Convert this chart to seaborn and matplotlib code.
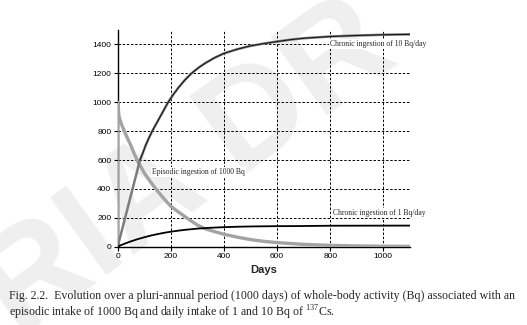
import matplotlib
matplotlib.use("Agg")
import matplotlib.pyplot as plt
import seaborn as sns
import pandas as pd

# Whole-body activity (Bq) of 137Cs versus time (days)
episodic_days = [0, 0, 5, 15, 25, 37, 50, 63, 77, 90, 100, 125, 150, 175, 200,
                 225, 250, 275, 300, 325, 350, 400, 450, 500, 550, 600, 700,
                 800, 900, 1000, 1100]
episodic_bq = [0, 1000, 900, 845, 800, 750, 700, 640, 585, 545, 510, 445, 385,
               330, 280, 245, 212, 180, 150, 127, 112, 86, 66, 49, 37, 28, 16,
               9, 5, 3, 2]

chronic10_days = [0, 84, 95, 105, 117, 130, 145, 160, 175, 190, 210, 230, 253,
                  278, 305, 330, 365, 400, 450, 500, 550, 600, 650, 700, 800,
                  900, 1000, 1100]
chronic10_bq = [0, 600, 650, 700, 750, 800, 850, 900, 950, 1000, 1055, 1104,
                1154, 1200, 1240, 1271, 1308, 1338, 1367, 1390, 1406, 1420,
                1433, 1443, 1455, 1462, 1467, 1470]

chronic1_days = [0, 10, 25, 50, 75, 100, 125, 150, 175, 200, 250, 300, 350,
                 400, 450, 500, 600, 700, 800, 1100]
chronic1_bq = [0, 9, 20, 37, 52, 65, 77, 87, 96, 104, 116, 125, 131, 135, 138,
               140, 142, 143, 145, 146]

x_ticks = [0, 200, 400, 600, 800, 1000]
y_ticks = [0, 200, 400, 600, 800, 1000, 1200, 1400]

label_10 = "Chronic ingestion of 10 Bq/day"
label_1 = "Chronic ingestion of 1 Bq/day"
label_ep = "Episodic ingestion of 1000 Bq"
x_title = "Days"
caption_1 = ("Fig. 2.2.  Evolution over a pluri-annual period (1000 days) of "
             "whole-body activity (Bq) associated with an")
caption_2 = r"episodic intake of 1000 Bq and daily intake of 1 and 10 Bq of $^{\mathrm{137}}$Cs."
watermark = "RIA DR"

sns.set_style("ticks")
plt.rcParams["font.family"] = ["Liberation Sans", "DejaVu Sans"]
plt.rcParams["mathtext.fontset"] = "custom"
plt.rcParams["mathtext.rm"] = "Liberation Serif"

ep = pd.DataFrame({"day": episodic_days, "bq": episodic_bq})
c10 = pd.DataFrame({"day": chronic10_days, "bq": chronic10_bq})
c1 = pd.DataFrame({"day": chronic1_days, "bq": chronic1_bq})

fig = plt.figure(figsize=(5.27, 3.25), dpi=100)
fig.patch.set_facecolor("white")

# faint document watermark behind the figure
fig.text(0.036, -0.046, watermark, fontsize=100, fontweight="bold",
         color="#efefef", rotation=36, rotation_mode="anchor",
         ha="left", va="baseline", zorder=0, family="Liberation Sans")

ax = fig.add_axes([0.2233, 0.241, 0.5545, 0.6667])
ax.set_facecolor("none")
ax.set_zorder(1)

sns.lineplot(data=ep, x="day", y="bq", ax=ax, color="#a3a3a3", linewidth=2.4,
             sort=False, estimator=None, zorder=3)
sns.lineplot(data=c10, x="day", y="bq", ax=ax, color="#7c7c7c", linewidth=1.8,
             sort=False, estimator=None, zorder=4)
sns.lineplot(data=c10.iloc[1:], x="day", y="bq", ax=ax, color="#111111",
             linewidth=0.7, sort=False, estimator=None, zorder=5)
sns.lineplot(data=c1, x="day", y="bq", ax=ax, color="black", linewidth=1.3,
             sort=False, estimator=None, zorder=5)

ax.set_xlim(0, 1100)
ax.set_ylim(0, 1500)
ax.set_xticks(x_ticks)
ax.set_yticks(y_ticks)
ax.set_xlabel(x_title, fontsize=8, fontweight="bold", labelpad=4)
ax.set_ylabel("")
ax.tick_params(axis="both", labelsize=6, length=3, width=0.8, pad=1.5,
               colors="black")

sns.despine(ax=ax, top=True, right=True)
for side in ("left", "bottom"):
    ax.spines[side].set_linewidth(1.0)
    ax.spines[side].set_color("black")
    ax.spines[side].set_zorder(2.5)

ax.grid(True, color="black", linestyle=(0, (2.5, 1.8)), linewidth=0.7)
ax.set_axisbelow(True)

box = dict(facecolor="white", edgecolor="none", pad=0.6)
serif = ["Liberation Serif", "DejaVu Serif"]
ax.text(800, 1405, label_10, fontsize=5.5, family=serif, ha="left",
        va="center", bbox=box, zorder=7)
ax.text(809, 232, label_1, fontsize=5.5, family=serif, ha="left",
        va="center", bbox=box, zorder=7)
ax.text(130, 516, label_ep, fontsize=5.5, family=serif, ha="left",
        va="center", bbox=box, zorder=2.8)

fig.text(9 / 527, 1 - 296 / 325, caption_1, fontsize=8.6, family=serif,
         ha="left", va="center")
fig.text(9 / 527, 1 - 312.5 / 325, caption_2, fontsize=8.6, family=serif,
         ha="left", va="center")

fig.savefig("out.png", dpi=100, facecolor="white")
